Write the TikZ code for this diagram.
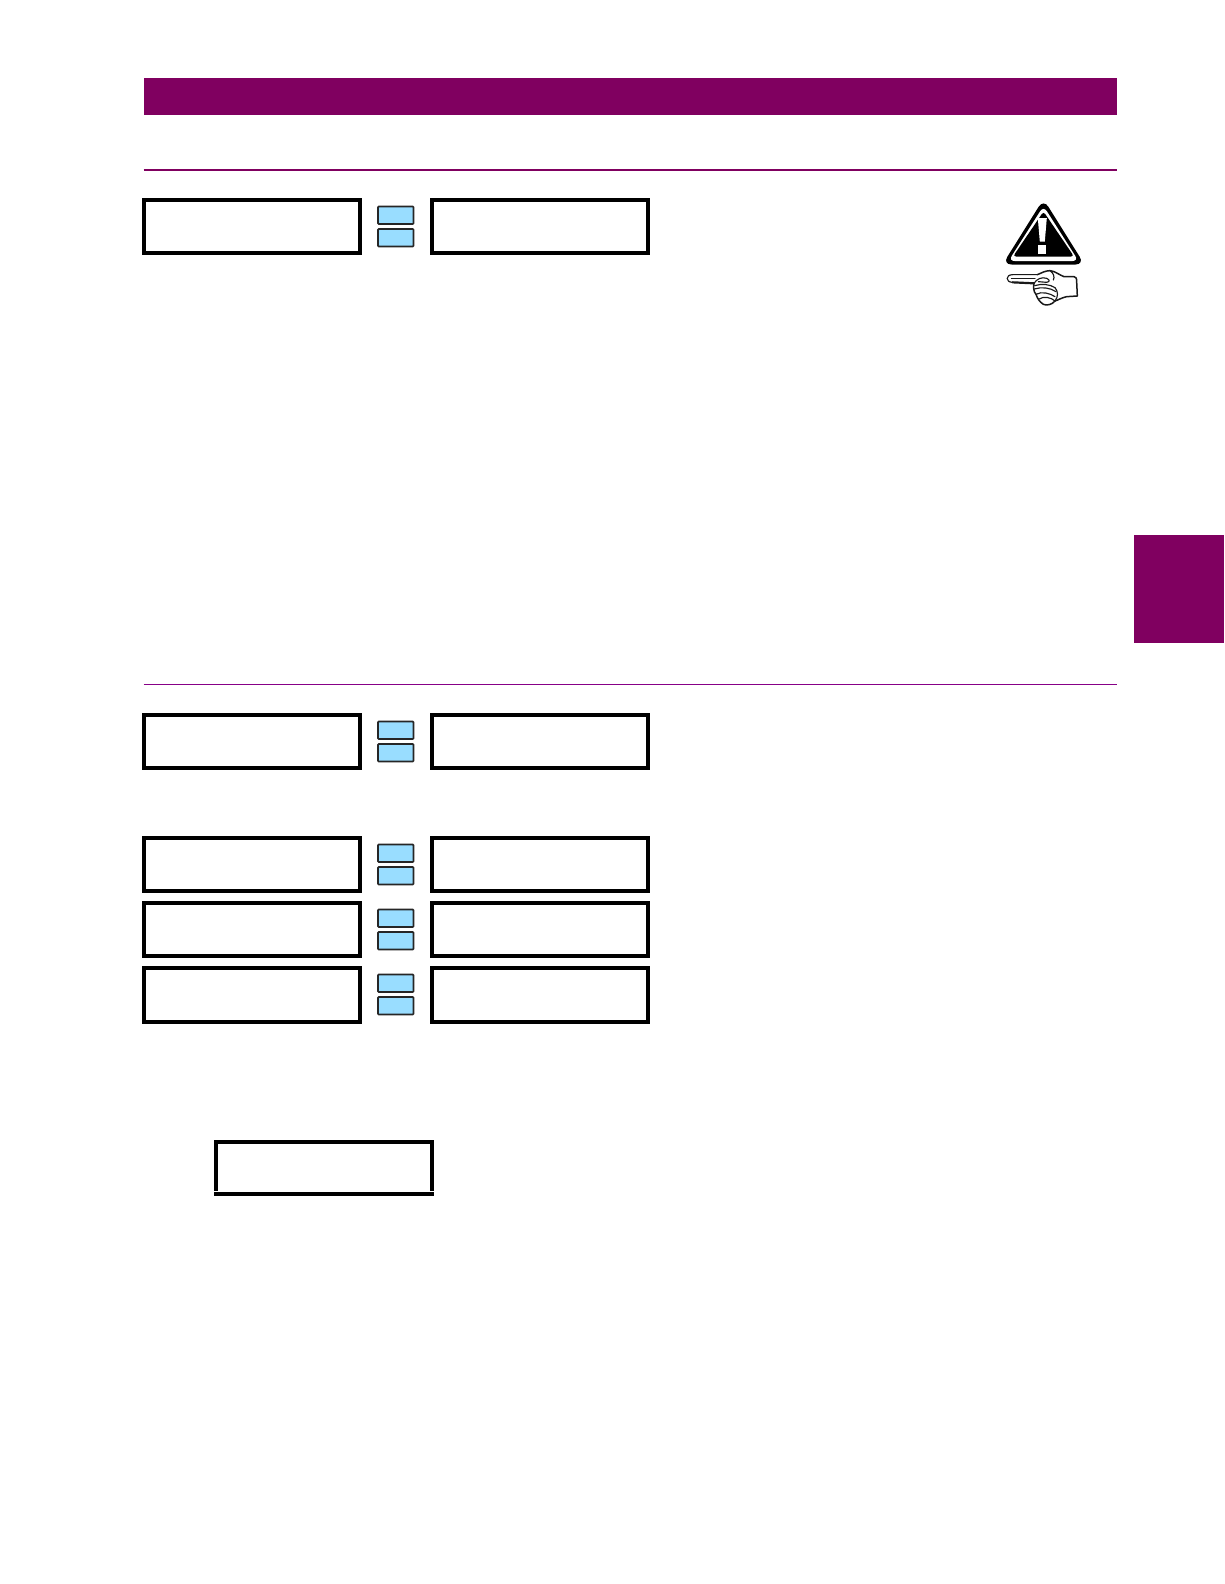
\documentclass[tikz,border=0pt]{standalone}
\definecolor{gemaroon}{RGB}{128,0,96}
\definecolor{rulepurple}{RGB}{135,0,135}
\definecolor{keyblue}{RGB}{153,221,255}
\tikzset{
  lcdbox/.style={draw=black,line width=4pt,fill=white,line join=miter},
  keybtn/.style={draw=black!85,line width=1.7pt,fill=keyblue,rounded corners=0.8pt},
  handline/.style={draw=black!90,line width=1.15pt,line join=round,line cap=round}
}
\newcommand{\lcdrow}[2]{%
  \draw[lcdbox] (144.4,#1+2) rectangle (360,#1+#2-2);
  \draw[lcdbox] (432,#1+2) rectangle (647.6,#1+#2-2);
  \draw[keybtn] (378,#1+8.5) rectangle (413.5,#1+26);
  \draw[keybtn] (378,#1+31) rectangle (413.5,#1+48.5);
}
\begin{document}
\begin{tikzpicture}[x=1pt,y=-1pt]
\useasboundingbox (0,0) rectangle (1224,1584);
\fill[white] (0,0) rectangle (1224,1584);
% header band and side tab
\fill[gemaroon] (143.5,78) rectangle (1117,115);
\fill[gemaroon] (1134,535) rectangle (1224,643);
% section rules
\draw[gemaroon,line width=1.6pt] (143.5,170) -- (1117,170);
\draw[rulepurple,line width=1.1pt] (143.5,684.5) -- (1117,684.5);
% display rows
\lcdrow{198}{56.5}
\lcdrow{713}{56.5}
\lcdrow{836}{56.5}
\lcdrow{901}{56.5}
\lcdrow{966}{57.5}
% single display, with separated bottom bar
\draw[black,line width=4pt,line join=miter] (216,1191) -- (216,1142) -- (432,1142) -- (432,1191);
\fill[black] (214,1192) rectangle (434,1196);
% warning triangle
\fill[black,rounded corners=9pt] (1043.5,199) -- (1084.5,264.5) -- (1002.5,264.5) -- cycle;
\fill[white,rounded corners=6pt] (1043.5,206) -- (1078.5,261) -- (1008.5,261) -- cycle;
\fill[black,rounded corners=3pt] (1043.5,211.5) -- (1074,256.5) -- (1013,256.5) -- cycle;
\fill[white] (1037.8,218) -- (1046.8,218) -- (1044.8,241.5) -- (1039.8,241.5) -- cycle;
\fill[white] (1038.3,245) rectangle (1046.2,253.5);
% pointing hand
\begin{scope}[shift={(1000,265)},x=0.3333pt,y=-0.3333pt]
  \fill[white] (38,29) -- (112,29) -- (150,17) -- (192,35) -- (230,35) -- (232,93) -- (165,108) -- (135,120) -- (108,88) -- (100,54) -- (38,52) -- cycle;
  \draw[handline] (112,29) -- (38,29) .. controls (16,29) and (16,52) .. (38,52);
  \draw[handline,line width=2.2pt] (38,52) -- (102,55);
  \draw[handline] (34,40) -- (105,40);
  \draw[handline,line width=1.5pt] (112,29) .. controls (125,24) and (135,17) .. (150,17) .. controls (165,18) and (178,30) .. (192,35) -- (222,35) .. controls (228,35) and (230,40) .. (230,50) -- (232,93) -- (200,95) .. controls (185,98) and (175,105) .. (165,108) .. controls (155,120) and (140,122) .. (130,118) .. controls (118,110) and (112,100) .. (108,88) .. controls (100,80) and (100,65) .. (102,55);
  \draw[handline] (102,55) .. controls (110,42) and (125,35) .. (140,40) .. controls (150,45) and (150,50) .. (140,52) -- (115,50);
  \draw[handline] (104,62) .. controls (125,55) and (150,58) .. (165,68);
  \draw[handline] (103,72) .. controls (125,65) and (150,68) .. (168,80);
  \draw[handline] (108,88) .. controls (125,78) and (150,85) .. (165,95);
  \draw[handline] (118,102) .. controls (130,92) and (155,98) .. (165,108);
  \draw[handline] (165,68) .. controls (175,80) and (175,95) .. (165,108);
  \draw[handline] (150,17) .. controls (160,24) and (165,35) .. (160,45);
\end{scope}
\end{tikzpicture}
\end{document}
